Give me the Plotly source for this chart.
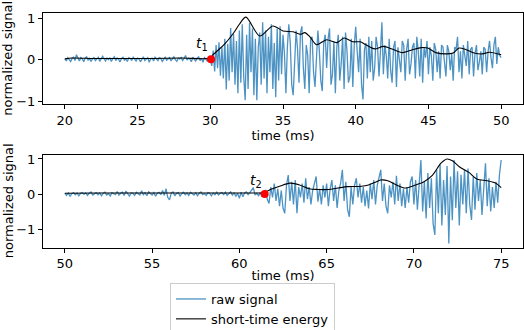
import numpy as np
import plotly.graph_objects as go

# ---------------- data ----------------
# top panel: raw signal sampled every 0.1 ms from 20.0 to 50.0 ms
raw1_start, raw1_step = 20.0, 0.1
raw1 = [
    0.02, -0.03, 0.05, 0.01, -0.04, 0.03, 0.06, -0.02, 0.12, 0.04,
    -0.03, 0.05, 0.02, -0.05, 0.04, 0.07, -0.01, 0.03, -0.04, 0.02,
    0.05, -0.02, 0.03, 0.06, -0.04, 0.01, 0.08, 0.02, -0.03, 0.04,
    0.00, 0.05, -0.04, 0.03, 0.07, -0.02, 0.04, 0.01, -0.05, 0.03,
    0.06, -0.01, 0.02, -0.04, 0.05, 0.03, -0.02, 0.06, 0.00, -0.03,
    0.04, 0.02, -0.05, 0.03, 0.07, -0.02, 0.01, 0.05, -0.06, 0.02,
    0.04, -0.03, 0.06, 0.01, -0.02, 0.05, 0.03, -0.04, 0.02, 0.06,
    -0.01, 0.03, 0.05, -0.03, 0.02, 0.07, 0.00, -0.04, 0.04, 0.02,
    0.05, -0.02, 0.03, 0.10, -0.01, 0.04, 0.02, -0.05, 0.06, 0.01,
    -0.03, 0.04, 0.07, -0.02, 0.03, -0.06, 0.05, 0.02, -0.04, 0.06,
    0.04, -0.15, 0.22, -0.28, 0.35, -0.20, 0.42, -0.38, 0.30, -0.45,
    0.50, -0.71, 0.38, -0.50, 0.76, -0.30, 0.62, -0.60, 0.45, -0.80,
    0.70, -0.55, 0.85, -0.40, -0.97, 0.60, -0.70, 0.88, -0.30, 0.75,
    -0.85, 0.50, -0.97, 0.30, 0.65, -0.60, 0.90, -0.45, 0.70, -0.80,
    0.55, -0.30, 0.85, -0.70, 0.40, -0.90, 0.75, -0.50, 0.80, -0.35,
    0.60, 0.15, -0.80, 0.30, 0.85, 0.40, -0.60, -0.85, 0.10, 0.70,
    0.25, -0.55, 0.65, 0.80, -0.20, -0.70, 0.35, 0.10, -0.80, 0.50,
    0.55, -0.30, -0.65, 0.25, 0.70, 0.20, -0.50, -0.75, 0.40, 0.60,
    -0.20, 0.50, 0.75, -0.60, -0.35, 0.45, -0.80, 0.30, 0.60, -0.50,
    -0.10, 0.55, -0.70, 0.65, 0.20, -0.55, -0.40, 0.50, -0.65, 0.35,
    0.79, 0.20, -0.30, 0.50, -0.60, -0.95, 0.25, 0.40, -0.45, 0.55,
    -0.30, 0.45, -0.50, -0.20, 0.55, 0.30, -0.40, 0.20, 0.90, -0.35,
    0.35, 0.10, -0.45, 0.50, -0.25, -0.55, 0.30, 0.45, -0.65, 0.30,
    0.05, -0.30, 0.45, 0.35, -0.50, 0.25, 0.50, -0.35, -0.10, 0.30,
    0.40, -0.45, 0.55, 0.20, -0.40, 0.50, -0.55, 0.30, 0.05, 0.45,
    -0.35, 0.30, 0.10, -0.50, 0.40, 0.25, -0.30, 0.20, -0.45, 0.35,
    0.30, -0.15, -0.40, 0.35, 0.20, -0.25, 0.15, -0.50, 0.30, 0.25,
    0.55, -0.30, 0.20, -0.45, 0.35, 0.10, -0.15, 0.45, -0.35, 0.25,
    0.30, -0.40, 0.15, 0.35, -0.25, -0.05, 0.20, -0.35, 0.30, 0.25,
    -0.30, 0.20, 0.45, 0.05, -0.20, 0.35, 0.55, -0.10, 0.30, 0.10,
    0.05,
]
energy1_t = [20.0, 20.5, 22.0, 24.0, 26.0, 28.0, 30.0, 30.2, 31.0, 31.6, 32.0,
             32.45, 33.4, 34.3, 35.0, 35.7, 36.2, 36.5, 36.85, 37.3, 38.0,
             38.7, 39.2, 39.8, 40.3, 40.7, 41.3, 41.9, 42.55, 43.2, 43.9,
             44.5, 44.95, 45.5, 46.2, 46.7, 47.1, 47.6, 48.15, 48.7, 49.2, 50.0]
energy1_v = [0.02, 0.04, 0.03, 0.03, 0.03, 0.04, 0.04, 0.12, 0.38, 0.64, 0.85,
             1.02, 0.57, 0.81, 0.69, 0.67, 0.61, 0.65, 0.55, 0.36, 0.48,
             0.41, 0.52, 0.43, 0.43, 0.36, 0.26, 0.32, 0.25, 0.17, 0.24,
             0.29, 0.28, 0.17, 0.14, 0.16, 0.28, 0.24, 0.16, 0.14, 0.18, 0.12]
onset1 = (30.05, 0.01)

# bottom panel: raw signal sampled every 0.1 ms from 50.0 to 75.0 ms
raw2_start, raw2_step = 50.0, 0.1
raw2 = [
    0.02, -0.04, 0.03, -0.07, 0.01, 0.04, -0.02, 0.03, -0.05, 0.02,
    0.04, -0.01, 0.03, -0.04, 0.02, 0.06, -0.03, 0.01, 0.04, -0.02,
    0.03, -0.05, 0.02, 0.05, -0.03, 0.01, -0.06, 0.04, 0.02, -0.02,
    0.07, -0.03, 0.02, 0.05, -0.04, 0.08, 0.01, -0.06, 0.03, 0.02,
    -0.04, 0.05, 0.01, -0.03, 0.09, -0.02, 0.04, -0.05, 0.06, 0.01,
    -0.03, 0.04, -0.06, 0.02, 0.05, -0.02, 0.10, -0.04, 0.15, -0.10,
    -0.17, 0.03, 0.06, -0.05, 0.02, 0.04, -0.06, 0.01, 0.05, -0.02,
    0.03, -0.04, 0.05, 0.01, -0.03, 0.04, -0.05, 0.02, 0.06, -0.02,
    0.01, -0.04, 0.04, 0.02, -0.05, 0.03, -0.02, 0.05, -0.03, 0.02,
    0.04, -0.02, 0.05, -0.04, 0.01, 0.06, -0.03, 0.03, -0.06, 0.02,
    -0.12, 0.05, -0.08, 0.03, 0.06, -0.02, 0.04, 0.10, 0.18, -0.03,
    0.02, -0.05, 0.04, -0.08, 0.00, 0.12, -0.15, -0.27, 0.20, -0.10,
    0.30, -0.20, 0.15, -0.35, 0.10, -0.40, -0.55, 0.25, 0.54, -0.20,
    0.35, -0.30, 0.40, -0.55, 0.20, -0.10, 0.30, -0.25, 0.45, -0.15,
    0.20, -0.30, 0.10, 0.35, 0.50, -0.22, 0.15, -0.30, 0.25, -0.10,
    0.30, -0.35, 0.15, 0.40, -0.20, 0.25, -0.40, 0.10, 0.30, 0.69,
    -0.20, 0.35, -0.45, -0.65, 0.20, -0.30, 0.25, 0.45, -0.10, 0.30,
    -0.25, 0.20, -0.35, 0.10, -0.41, 0.30, -0.15, 0.40, -0.30, 0.25,
    0.45, 0.69, -0.20, 0.30, -0.35, -0.55, 0.25, -0.10, 0.35, -0.30,
    0.52, -0.20, 0.30, -0.35, 0.15, -0.40, 0.20, -0.25, 0.35, 0.50,
    -0.30, 0.40, -0.45, 0.25, 0.97, -0.50, 0.35, -0.70, 0.60, -0.40,
    0.45, -0.85, -1.17, 0.70, -0.55, 0.85, -0.90, 0.40, -0.60, 0.80,
    -1.41, 0.50, -0.75, 0.97, -0.40, 0.65, -0.90, 0.55, -0.30, 0.70,
    -0.55, 0.73, -0.30, -0.74, 0.50, -0.45, 0.60, -0.20, 0.40, -0.60,
    0.30, 0.88, -0.35, 0.45, -0.50, 0.20, -0.40, 0.35, -0.25, 0.55,
    0.97,
]
energy2_t = [50.0, 52.0, 55.0, 58.0, 61.0, 61.4, 61.7, 62.3, 62.9, 63.45, 64.0,
             64.5, 65.1, 65.65, 66.2, 67.0, 67.4, 67.75, 68.1, 68.5, 69.0,
             69.5, 70.1, 70.6, 71.07, 71.55, 71.9, 72.2, 72.6, 73.17, 73.6,
             74.2, 74.7, 75.0]
energy2_v = [0.02, 0.03, 0.03, 0.03, 0.03, 0.03, 0.11, 0.22, 0.31, 0.26, 0.15,
             0.13, 0.13, 0.17, 0.21, 0.22, 0.26, 0.33, 0.40, 0.38, 0.26,
             0.17, 0.26, 0.36, 0.54, 0.88, 1.00, 0.95, 0.78, 0.61, 0.43,
             0.38, 0.31, 0.18]
onset2 = (61.45, 0.0)

x1_ticks = [20, 25, 30, 35, 40, 45, 50]
x2_ticks = [50, 55, 60, 65, 70, 75]
y_ticks = [-1, 0, 1]
x_title = "time (ms)"
y_title = "normalized signal"

# ---------------- figure ----------------
t1 = np.round(raw1_start + raw1_step * np.arange(len(raw1)), 3)
t2 = np.round(raw2_start + raw2_step * np.arange(len(raw2)), 3)

RAW_COLOR = "rgba(31,119,180,0.8)"
FONT = "DejaVu Sans"

fig = go.Figure()
fig.add_trace(go.Scatter(x=t1, y=raw1, mode="lines", name="raw signal",
                         line=dict(color=RAW_COLOR, width=1.3),
                         xaxis="x", yaxis="y"))
fig.add_trace(go.Scatter(x=energy1_t, y=energy1_v, mode="lines",
                         name="short-time energy",
                         line=dict(color="black", width=1.1, shape="spline", smoothing=0.8),
                         xaxis="x", yaxis="y"))
fig.add_trace(go.Scatter(x=[onset1[0]], y=[onset1[1]], mode="markers",
                         marker=dict(color="#ff0000", size=8), showlegend=False,
                         xaxis="x", yaxis="y"))
fig.add_trace(go.Scatter(x=t2, y=raw2, mode="lines", name="raw signal",
                         line=dict(color=RAW_COLOR, width=1.3), showlegend=False,
                         xaxis="x2", yaxis="y2"))
fig.add_trace(go.Scatter(x=energy2_t, y=energy2_v, mode="lines",
                         name="short-time energy", showlegend=False,
                         line=dict(color="black", width=1.1, shape="spline", smoothing=0.8),
                         xaxis="x2", yaxis="y2"))
fig.add_trace(go.Scatter(x=[onset2[0]], y=[onset2[1]], mode="markers",
                         marker=dict(color="#ff0000", size=8), showlegend=False,
                         xaxis="x2", yaxis="y2"))

axis_common = dict(showline=True, linecolor="black", linewidth=1, mirror=True,
                   ticks="outside", ticklen=4, tickcolor="black", tickwidth=1,
                   showgrid=False, zeroline=False, automargin=False,
                   tickfont=dict(family=FONT, size=13, color="black"))

Y1_DOM = [0.7117, 1.0]
Y2_DOM = [0.26, 0.5527]

fig.update_layout(
    width=524, height=330,
    margin=dict(l=43, r=1, t=13, b=0, autoexpand=False),
    paper_bgcolor="white", plot_bgcolor="white",
    font=dict(family=FONT, size=13, color="black"),
    xaxis=dict(domain=[0, 1], anchor="y", range=[18.5, 51.5], tickvals=x1_ticks,
               title=dict(text=x_title, standoff=0, font=dict(size=13)),
               **axis_common),
    yaxis=dict(domain=Y1_DOM, anchor="x", range=[-1.07, 1.12], tickvals=y_ticks,
               **axis_common),
    xaxis2=dict(domain=[0, 1], anchor="y2", range=[48.75, 76.25], tickvals=x2_ticks,
                title=dict(text=x_title, standoff=0, font=dict(size=13)),
                **axis_common),
    yaxis2=dict(domain=Y2_DOM, anchor="x2", range=[-1.53, 1.12], tickvals=y_ticks,
                **axis_common),
    legend=dict(x=0.3244, y=0.1424, xref="container", yref="container",
                xanchor="left", yanchor="top",
                bgcolor="white", bordercolor="#cccccc", borderwidth=1,
                font=dict(family=FONT, size=13), itemwidth=30,
                tracegroupgap=0),
    showlegend=True,
    annotations=[
        dict(x=29.4, y=0.38, xref="x", yref="y", text="<i>t</i><sub>1</sub>",
             showarrow=False, font=dict(family=FONT, size=14)),
        dict(x=60.95, y=0.37, xref="x2", yref="y2", text="<i>t</i><sub>2</sub>",
             showarrow=False, font=dict(family=FONT, size=14)),
        dict(x=-0.0729, y=sum(Y1_DOM) / 2, xref="paper", yref="paper",
             text=y_title, textangle=-90, showarrow=False,
             xanchor="center", yanchor="middle", font=dict(family=FONT, size=13)),
        dict(x=-0.0729, y=sum(Y2_DOM) / 2, xref="paper", yref="paper",
             text=y_title, textangle=-90, showarrow=False,
             xanchor="center", yanchor="middle", font=dict(family=FONT, size=13)),
    ],
)

fig.write_html("out.html", config={"displayModeBar": False},
               post_script="document.body.style.margin='0px';document.body.style.overflow='hidden';")
